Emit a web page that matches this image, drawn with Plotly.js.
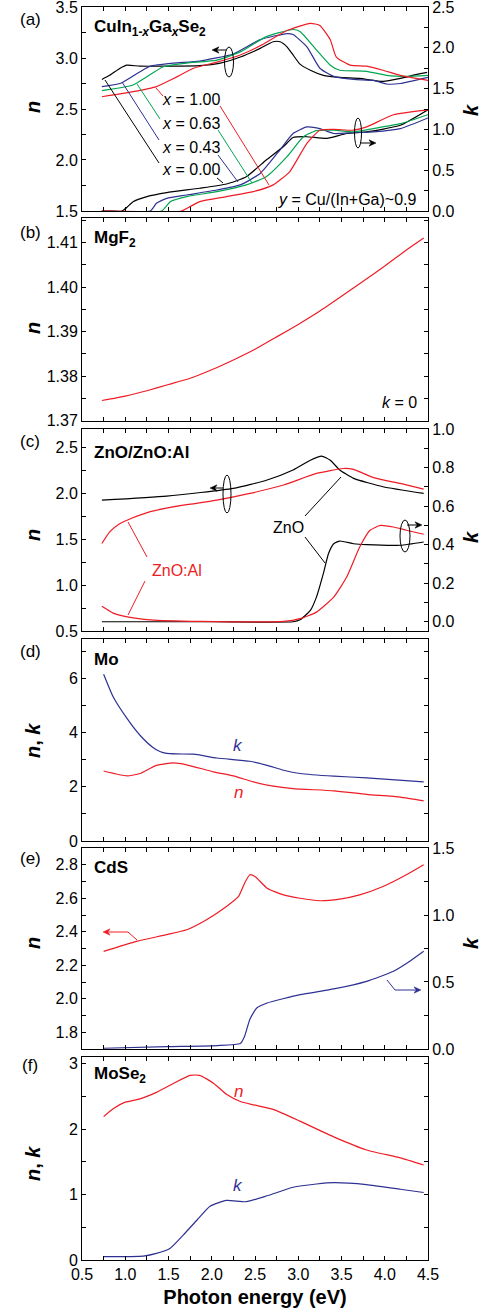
<!DOCTYPE html>
<html><head><meta charset="utf-8">
<script src="https://cdn.plot.ly/plotly-3.0.1.min.js"></script>
<style>body{margin:0;padding:0;background:#fff}#chart{width:484px;height:1311px}</style>
</head><body><div id="chart"></div>
<script>
// ---------- (a) CuIn1-xGaxSe2 ----------
const a_nE_x000 = [0.73,0.82,0.94,1.02,1.17,1.48,1.86,2.10,2.33,2.56,2.71,2.79,2.87,2.94,3.02,3.14,3.29,3.48,3.71,3.98,4.18,4.37,4.49];
const a_n_x000  = [2.79,2.83,2.90,2.93,2.92,2.92,2.925,2.95,3.01,3.095,3.16,3.16,3.11,3.03,2.94,2.88,2.83,2.81,2.80,2.77,2.80,2.84,2.86];
const a_nE_x043 = [0.73,0.94,1.17,1.29,1.56,1.86,2.25,2.56,2.87,2.94,3.10,3.25,3.41,3.64,3.87,4.02,4.18,4.50];
const a_n_x043  = [2.72,2.75,2.866,2.92,2.95,2.97,3.04,3.18,3.24,3.23,3.11,2.90,2.82,2.79,2.78,2.745,2.75,2.81];
const a_nE_x063 = [0.73,1.09,1.25,1.44,1.71,2.06,2.33,2.63,2.94,3.02,3.21,3.37,3.48,3.79,4.02,4.25,4.50];
const a_n_x063  = [2.68,2.735,2.817,2.915,2.95,2.98,3.06,3.21,3.28,3.26,3.08,2.93,2.88,2.87,2.83,2.82,2.83];
const a_nE_x100 = [0.73,1.09,1.36,1.56,1.79,2.06,2.33,2.56,2.87,3.14,3.25,3.37,3.44,3.60,3.79,3.98,4.18,4.50];
const a_n_x100  = [2.62,2.67,2.72,2.80,2.90,2.96,3.03,3.12,3.27,3.34,3.32,3.18,3.01,2.93,2.92,2.88,2.83,2.78];
const a_kE_x000 = [0.73,0.96,1.02,1.09,1.25,1.48,1.86,2.17,2.40,2.63,2.83,2.94,3.10,3.33,3.56,3.79,4.18,4.50];
const a_k_x000  = [0,0,0.045,0.114,0.176,0.225,0.278,0.33,0.42,0.625,0.79,0.90,0.91,0.89,0.95,0.97,1.05,1.24];
const a_kE_x043 = [0.73,1.29,1.36,1.48,1.71,2.06,2.33,2.56,2.79,2.94,3.10,3.25,3.41,3.64,3.87,4.18,4.50];
const a_k_x043  = [0,0,0.094,0.155,0.196,0.257,0.32,0.46,0.75,0.95,1.03,1.01,0.95,0.96,0.97,1.01,1.14];
const a_kE_x063 = [0.73,1.42,1.52,1.71,2.06,2.40,2.63,2.87,3.06,3.21,3.41,3.64,3.87,4.18,4.50];
const a_k_x063  = [0,0,0.114,0.176,0.237,0.32,0.42,0.666,0.91,0.985,0.99,0.97,1.01,1.07,1.18];
const a_kE_x100 = [0.73,1.65,1.75,1.86,2.17,2.48,2.71,2.90,3.10,3.25,3.41,3.64,3.79,4.10,4.50];
const a_k_x100  = [0,0,0.053,0.114,0.176,0.237,0.32,0.48,0.83,0.99,1.0,0.99,1.03,1.18,1.24];
const a_labels  = ['<i>x</i> = 1.00','<i>x</i> = 0.63','<i>x</i> = 0.43','<i>x</i> = 0.00'];

// ---------- (b) MgF2 ----------
const b_E = [0.73,1.0,1.25,1.5,1.75,2.0,2.25,2.5,2.75,3.0,3.25,3.5,3.75,4.0,4.25,4.45];
const b_n = [1.3745,1.3755,1.3767,1.3781,1.3795,1.3814,1.3836,1.386,1.3888,1.3916,1.3946,1.3979,1.4013,1.4047,1.4083,1.411];

// ---------- (c) ZnO / ZnO:Al ----------
const c_nE_ZnO = [0.73,1.48,2.25,2.64,2.94,3.14,3.27,3.37,3.48,3.64,3.98,4.45];
const c_n_ZnO  = [1.925,1.969,2.053,2.144,2.253,2.36,2.405,2.36,2.253,2.162,2.071,1.998];
const c_nE_AZO = [0.73,0.82,0.94,1.04,1.29,1.67,2.06,2.44,2.83,3.21,3.52,3.64,3.87,4.18,4.45];
const c_n_AZO  = [1.453,1.58,1.67,1.715,1.80,1.87,1.925,1.998,2.09,2.216,2.27,2.26,2.17,2.107,2.045];
const c_kE_ZnO = [0.73,2.0,2.94,3.02,3.14,3.21,3.29,3.35,3.41,3.48,3.64,3.79,4.18,4.45];
const c_k_ZnO  = [0,0,0,0.01,0.059,0.128,0.25,0.354,0.405,0.419,0.405,0.40,0.397,0.414];
const c_kE_AZO = [0.73,0.86,1.04,1.29,1.86,2.83,3.02,3.21,3.41,3.56,3.71,3.83,3.95,4.10,4.25,4.45];
const c_k_AZO  = [0.08,0.045,0.024,0.01,0.002,0.002,0.016,0.05,0.128,0.232,0.388,0.475,0.50,0.492,0.475,0.454];

// ---------- (d) Mo ----------
const d_E = [0.75,0.86,1.02,1.17,1.32,1.40,1.48,1.60,1.79,2.06,2.44,2.64,2.83,3.02,3.41,3.79,4.45];
const d_k = [6.15,5.32,4.52,3.90,3.45,3.30,3.23,3.21,3.20,3.06,2.94,2.79,2.61,2.49,2.39,2.33,2.18];
const d_nE = [0.75,1.02,1.17,1.36,1.56,1.71,2.02,2.25,2.48,2.71,2.94,3.41,3.79,4.18,4.45];
const d_n  = [2.58,2.40,2.49,2.79,2.88,2.81,2.55,2.40,2.18,2.02,1.93,1.85,1.72,1.62,1.48];

// ---------- (e) CdS ----------
const e_nE = [0.75,1.13,1.48,1.71,1.94,2.17,2.31,2.38,2.44,2.50,2.64,2.83,3.02,3.25,3.48,3.71,3.98,4.25,4.45];
const e_n  = [2.283,2.343,2.383,2.412,2.472,2.551,2.611,2.69,2.74,2.73,2.66,2.62,2.60,2.585,2.595,2.62,2.67,2.74,2.80];
const e_kE = [0.75,1.48,2.06,2.33,2.38,2.44,2.52,2.64,3.02,3.41,3.79,4.10,4.29,4.45];
const e_k  = [0.005,0.017,0.025,0.04,0.095,0.22,0.306,0.343,0.405,0.448,0.505,0.58,0.655,0.729];

// ---------- (f) MoSe2 ----------
const f_nE = [0.75,0.86,1.0,1.17,1.36,1.56,1.75,1.86,2.02,2.17,2.33,2.48,2.71,3.02,3.41,3.79,4.18,4.45];
const f_n  = [2.19,2.31,2.41,2.46,2.56,2.70,2.82,2.82,2.70,2.53,2.42,2.37,2.30,2.12,1.88,1.68,1.56,1.45];
const f_kE = [0.75,1.21,1.36,1.52,1.67,1.83,1.98,2.17,2.40,2.64,2.94,3.21,3.41,3.79,4.18,4.45];
const f_k  = [0.05,0.06,0.10,0.18,0.38,0.61,0.82,0.91,0.89,0.98,1.11,1.16,1.18,1.15,1.08,1.03];

// ---------- styling ----------
const RED = '#ee1c25', BLUE = '#2e3192', GREEN = '#00a651', BLACK = '#000000';
const FONT = 'Liberation Sans, Arial, sans-serif';
const W = 484, H = 1311, ML = 82, MR = 56, MT = 7, MB = 51;
const PW = W - ML - MR, PH = H - MT - MB;
const px = v => (v - ML) / PW;
const py = v => (H - MB - v) / PH;

function tr(x, y, color, xa, ya, name) {
  return {x, y, type: 'scatter', mode: 'lines', name, xaxis: xa, yaxis: ya,
    line: {color, width: 1.2, shape: 'spline', smoothing: 0.5}, showlegend: false, hoverinfo: 'skip'};
}

const data = [
  tr(a_nE_x000, a_n_x000, BLACK, 'x', 'y', 'n x=0.00'),
  tr(a_nE_x043, a_n_x043, BLUE, 'x', 'y', 'n x=0.43'),
  tr(a_nE_x063, a_n_x063, GREEN, 'x', 'y', 'n x=0.63'),
  tr(a_nE_x100, a_n_x100, RED, 'x', 'y', 'n x=1.00'),
  tr(a_kE_x000, a_k_x000, BLACK, 'x', 'y2', 'k x=0.00'),
  tr(a_kE_x043, a_k_x043, BLUE, 'x', 'y2', 'k x=0.43'),
  tr(a_kE_x063, a_k_x063, GREEN, 'x', 'y2', 'k x=0.63'),
  tr(a_kE_x100, a_k_x100, RED, 'x', 'y2', 'k x=1.00'),
  tr(b_E, b_n, RED, 'x2', 'y3', 'MgF2 n'),
  tr(c_nE_ZnO, c_n_ZnO, BLACK, 'x3', 'y4', 'ZnO n'),
  tr(c_nE_AZO, c_n_AZO, RED, 'x3', 'y4', 'ZnO:Al n'),
  tr(c_kE_ZnO, c_k_ZnO, BLACK, 'x3', 'y5', 'ZnO k'),
  tr(c_kE_AZO, c_k_AZO, RED, 'x3', 'y5', 'ZnO:Al k'),
  tr(d_E, d_k, BLUE, 'x4', 'y6', 'Mo k'),
  tr(d_nE, d_n, RED, 'x4', 'y6', 'Mo n'),
  tr(e_nE, e_n, RED, 'x5', 'y7', 'CdS n'),
  tr(e_kE, e_k, BLUE, 'x5', 'y8', 'CdS k'),
  tr(f_nE, f_n, RED, 'x6', 'y9', 'MoSe2 n'),
  tr(f_kE, f_k, BLUE, 'x6', 'y9', 'MoSe2 k')
];

const tickfont = {family: FONT, size: 16, color: '#000'};
function xax(anchor, show) {
  return {domain: [0, 1], range: [0.5, 4.5], anchor, showline: true, mirror: 'ticks', linecolor: '#000', linewidth: 1,
    ticks: 'inside', ticklen: 4, tickwidth: 1, tickcolor: '#000', tick0: 0.5, dtick: 0.5, tickformat: '.1f',
    minor: {dtick: 0.25, ticks: 'inside', ticklen: 4, tickcolor: '#000'}, ticklabeloverflow: 'allow',
    showticklabels: show, showgrid: false, zeroline: false, tickfont, fixedrange: true};
}
function yax(domain, range, dtick, minorD, fmt, tick0, mirror) {
  return {domain, range, showline: true, mirror, linecolor: '#000', linewidth: 1,
    ticks: 'inside', ticklen: 4, tickwidth: 1, tickcolor: '#000', tick0, dtick, tickformat: fmt,
    minor: {dtick: minorD, ticks: 'inside', ticklen: 4, tickcolor: '#000'}, ticklabeloverflow: 'allow',
    showgrid: false, zeroline: false, tickfont, fixedrange: true};
}
function yRight(overlay, anchor, range, dtick, minorD, fmt) {
  return {overlaying: overlay, side: 'right', anchor, range, showline: true, linecolor: '#000', linewidth: 1,
    ticks: 'inside', ticklen: 4, tickwidth: 1, tickcolor: '#000', tick0: 0, dtick, tickformat: fmt,
    minor: {dtick: minorD, ticks: 'inside', ticklen: 4, tickcolor: '#000'}, ticklabeloverflow: 'allow',
    showgrid: false, zeroline: false, tickfont, fixedrange: true};
}
const dom = (top, bot) => [py(bot), py(top)];

const layout = {
  width: W, height: H, margin: {l: ML, r: MR, t: MT, b: MB},
  paper_bgcolor: '#fff', plot_bgcolor: '#fff', font: {family: FONT, color: '#000'},
  xaxis: xax('y', false), xaxis2: xax('y3', false), xaxis3: xax('y4', false),
  xaxis4: xax('y6', false), xaxis5: xax('y7', false),
  xaxis6: Object.assign(xax('y9', true), {title: {text: '<b>Photon energy (eV)</b>', font: {family: FONT, size: 20, color: '#000'}, standoff: 7}}),
  yaxis: Object.assign(yax(dom(7, 211), [1.4995, 3.5005], 0.5, 0.25, '.1f', 0, true), {anchor: 'x'}),
  yaxis2: yRight('y', 'x', [-0.0005, 2.5005], 0.5, 0.25, '.1f'),
  yaxis3: Object.assign(yax(dom(218, 421), [1.3699, 1.4155], 0.01, 0.005, '.2f', 1.37, 'ticks'), {anchor: 'x2'}),
  yaxis4: Object.assign(yax(dom(429, 631), [0.5, 2.7], 0.5, 0.25, '.1f', 0.5, true), {anchor: 'x3'}),
  yaxis5: yRight('y4', 'x3', [-0.048, 1.0005], 0.2, 0.1, '.1f'),
  yaxis6: Object.assign(yax(dom(639, 841), [-0.001, 7.45], 2, 1, 'd', 0, 'ticks'), {anchor: 'x4'}),
  yaxis7: Object.assign(yax(dom(848, 1049), [1.7, 2.9], 0.2, 0.1, '.1f', 1.8, true), {anchor: 'x5'}),
  yaxis8: yRight('y7', 'x5', [-0.0005, 1.5005], 0.5, 0.25, '.1f'),
  yaxis9: Object.assign(yax(dom(1057, 1260), [-0.0005, 3.1], 1, 0.5, 'd', 0, 'ticks'), {anchor: 'x6'}),
  annotations: [], shapes: []
};

const A = layout.annotations, S = layout.shapes;
function txt(text, x, y, opt) {
  opt = opt || {};
  A.push({text, xref: 'paper', yref: 'paper', x: px(x), y: py(y), showarrow: false,
    xanchor: opt.xanchor || 'center', yanchor: 'middle', textangle: opt.angle || 0,
    font: {family: FONT, size: opt.size || 16, color: opt.color || '#000'}});
}
function ln(x0, y0, x1, y1, color) {
  S.push({type: 'line', xref: 'paper', yref: 'paper', x0: px(x0), y0: py(y0), x1: px(x1), y1: py(y1),
    line: {color: color || '#000', width: 1}});
}
function arrow(x0, y0, x1, y1, color) {
  color = color || '#000';
  const L = Math.hypot(x1 - x0, y1 - y0), dx = (x1 - x0) / L, dy = (y1 - y0) / L;
  const hl = 7, hw = 3.2;
  const bx = x1 - hl * dx, by = y1 - hl * dy;
  ln(x0, y0, bx + 1.5 * dx, by + 1.5 * dy, color);
  const p = [[x1, y1], [bx - hw * dy, by + hw * dx], [bx + 2 * dx, by + 2 * dy], [bx + hw * dy, by - hw * dx]];
  const path = 'M' + p.map(q => px(q[0]) + ',' + py(q[1])).join(' L') + ' Z';
  S.push({type: 'path', xref: 'paper', yref: 'paper', path, fillcolor: color, line: {color, width: 0.5}});
}
function ell(cx, cy, rx, ry) {
  S.push({type: 'circle', xref: 'paper', yref: 'paper', x0: px(cx - rx), x1: px(cx + rx), y0: py(cy + ry), y1: py(cy - ry),
    line: {color: '#000', width: 1}});
}

// panel letters
[['(a)', 20], ['(b)', 232], ['(c)', 442], ['(d)', 651], ['(e)', 858], ['(f)', 1065]].forEach(p => txt(p[0], 30, p[1], {size: 17}));
// material labels
txt('<b>CuIn<sub>1-<i>x</i></sub>Ga<sub><i>x</i></sub>Se<sub>2</sub></b>', 92, 28, {xanchor: 'left', size: 17});
txt('<b>MgF<sub>2</sub></b>', 92, 239, {xanchor: 'left', size: 17});
txt('<b>ZnO/ZnO:Al</b>', 92, 452, {xanchor: 'left', size: 17});
txt('<b>Mo</b>', 92, 659, {xanchor: 'left', size: 17});
txt('<b>CdS</b>', 92, 867, {xanchor: 'left', size: 17});
txt('<b>MoSe<sub>2</sub></b>', 92, 1075, {xanchor: 'left', size: 17});
// axis titles
[[107, '<b><i>n</i></b>'], [328, '<b><i>n</i></b>'], [535, '<b><i>n</i></b>'], [740, '<b><i>n</i>, <i>k</i></b>'],
 [943, '<b><i>n</i></b>'], [1163, '<b><i>n</i>, <i>k</i></b>']].forEach(t => txt(t[1], 33, t[0], {size: 20, angle: -90}));
[110, 537, 943].forEach(y => txt('<b><i>k</i></b>', 471, y, {size: 20, angle: -90}));

// (a) annotations
const aLabY = [100, 123.3, 147, 169];
a_labels.forEach((t, i) => txt(t, 160, aLabY[i], {xanchor: 'left', size: 16}));
ln(156, 88, 163, 96, RED);   ln(220, 106, 269, 185, RED);
ln(137, 84, 160, 119, GREEN); ln(218, 130, 252, 183, GREEN);
ln(122, 82, 159, 140, BLUE);  ln(218, 155, 238, 182, BLUE);
ln(105, 80, 159, 163, BLACK); ln(217, 178, 223, 183, BLACK);
txt('<i>y</i> = Cu/(In+Ga)~0.9', 419, 199, {xanchor: 'right', size: 16});
ell(229, 62, 4.5, 15); arrow(226, 50, 212, 50);
ell(358, 133, 3.5, 15); arrow(360, 143, 376, 143);

// (b)
txt('<i>k</i> = 0', 419, 402, {xanchor: 'right', size: 16});

// (c)
txt('ZnO', 288, 527, {size: 16});
ln(305, 516, 341, 477); ln(305, 537, 325, 563);
txt('ZnO:Al', 177, 570, {size: 16, color: RED});
ln(147, 557, 128, 522, RED); ln(145, 581, 128, 615, RED);
ell(227, 494, 4, 19); arrow(223, 488, 210, 488);
ell(405, 536, 5, 16); arrow(407, 525, 422, 525);

// (d)
txt('<i>k</i>', 238, 745, {size: 17, color: BLUE});
txt('<i>n</i>', 238, 792, {size: 17, color: RED});

// (e)
ln(137, 940, 128, 932, RED); arrow(128, 932, 103, 932, RED);
ln(387, 980, 395, 990, BLUE); arrow(395, 990, 421, 990, BLUE);

// (f)
txt('<i>n</i>', 238, 1091, {size: 17, color: RED});
txt('<i>k</i>', 238, 1185, {size: 17, color: BLUE});

Plotly.newPlot('chart', data, layout, {staticPlot: true, displayModeBar: false});
</script>
</body></html>
